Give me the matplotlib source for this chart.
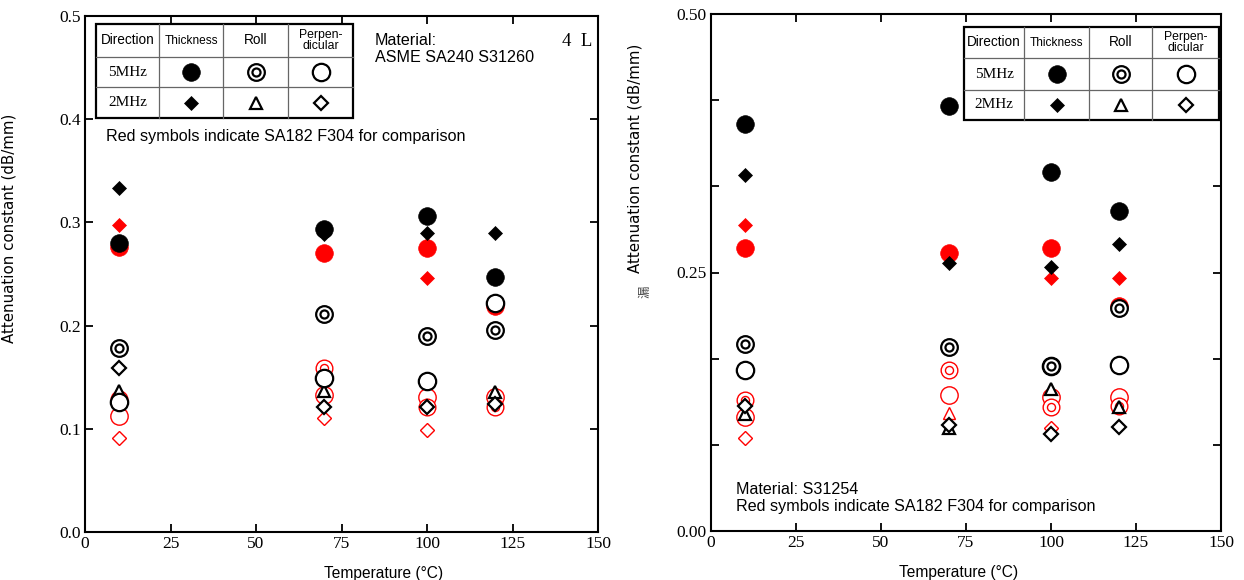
import numpy as np
import matplotlib
matplotlib.use("Agg")
import matplotlib.pyplot as plt
from matplotlib.patches import Rectangle

nan = np.nan
temps = [10, 70, 100, 120]

# ---------------- Left panel: ASME SA240 S31260 ----------------
L_blk_5_thick = [0.280, 0.294, 0.306, 0.247]
L_blk_5_roll = [0.178, 0.211, 0.190, 0.196]
L_blk_5_perp = [0.126, 0.1495, 0.146, 0.222]
L_blk_2_thick = [0.333, 0.289, 0.290, 0.290]
L_blk_2_roll = [0.137, 0.137, nan, 0.136]
L_blk_2_perp = [0.159, 0.121, 0.121, 0.124]
L_red_5_thick = [0.276, 0.270, 0.275, 0.219]
L_red_5_roll = [0.129, 0.159, 0.121, 0.121]
L_red_5_perp = [0.112, 0.133, 0.131, 0.131]
L_red_2_thick = [0.297, nan, 0.246, nan]
L_red_2_roll = [nan, nan, nan, nan]
L_red_2_perp = [0.091, 0.110, 0.099, nan]

# ---------------- Right panel: S31254 ----------------
R_blk_5_thick = [0.394, 0.411, 0.347, 0.3095]
R_blk_5_roll = [0.181, 0.178, 0.160, 0.2155]
R_blk_5_perp = [0.1557, nan, 0.160, 0.1605]
R_blk_2_thick = [0.344, 0.259, 0.2556, 0.278]
R_blk_2_roll = [0.113, 0.0996, 0.137, 0.120]
R_blk_2_perp = [0.121, 0.1025, 0.0935, 0.1003]
R_red_5_thick = [0.274, 0.269, 0.2734, 0.218]
R_red_5_roll = [0.1267, 0.1557, 0.1203, 0.121]
R_red_5_perp = [0.1106, 0.1315, 0.130, 0.130]
R_red_2_thick = [0.2956, nan, 0.245, 0.245]
R_red_2_roll = [nan, 0.1138, nan, nan]
R_red_2_perp = [0.0902, nan, 0.0993, nan]

x_ticks = [0, 25, 50, 75, 100, 125, 150]
L_y_ticks = [0.0, 0.1, 0.2, 0.3, 0.4, 0.5]
R_y_major = [0.0, 0.25, 0.50]
R_y_minor = [0.5 / 6, 0.5 / 6 * 2, 0.5 / 6 * 4, 0.5 / 6 * 5]

W, H = 1244, 580
fig = plt.figure(figsize=(W / 100, H / 100), dpi=100)

SERIF = ["Liberation Serif", "DejaVu Serif"]
SANS = ["Liberation Sans", "DejaVu Sans"]
YLAB = ["DejaVu Sans"]


def fx(px):
    return px / W


def fy(py):
    return 1 - py / H


def draw_marker(ax, x, y, kind, color, zorder=3):
    lw_open = 1.6 if color == "black" else 1.0
    if kind == "thick5":
        ax.plot(x, y, ls="none", marker="o", ms=12.7, mfc=color, mec=color, mew=0.5, zorder=zorder)
    elif kind == "roll5":
        ax.plot(x, y, ls="none", marker="o", ms=12.0, mfc="white", mec=color, mew=lw_open, zorder=zorder)
        ax.plot(x, y, ls="none", marker="o", ms=5.8, mfc="none", mec=color, mew=lw_open, zorder=zorder + 0.01)
    elif kind == "perp5":
        ax.plot(x, y, ls="none", marker="o", ms=12.5, mfc="white", mec=color, mew=lw_open, zorder=zorder)
    elif kind == "thick2":
        ax.plot(x, y, ls="none", marker="D", ms=6.8, mfc=color, mec=color, mew=0.5, zorder=zorder)
    elif kind == "roll2":
        ax.plot(x, y, ls="none", marker="^", ms=8.5, mfc="white", mec=color, mew=lw_open, zorder=zorder)
    elif kind == "perp2":
        ax.plot(x, y, ls="none", marker="D", ms=7.3, mfc="white", mec=color, mew=lw_open, zorder=zorder)


def setup_axes(ax, xlab_x):
    ax.set_xlim(0, 150)
    ax.set_ylim(0, 0.5)
    ax.set_xticks(x_ticks)
    ax.set_xticklabels([str(v) for v in x_ticks], fontfamily=SERIF, fontsize=12.5)
    ax.tick_params(which="both", direction="in", top=True, right=True, length=6, width=1.3, pad=3)
    for s in ax.spines.values():
        s.set_linewidth(1.5)
    ax.set_xlabel("Temperature (°C)", fontfamily=SANS, fontsize=11.2)
    ax.xaxis.set_label_coords(xlab_x, -0.065)


def plot_panel(ax, series):
    z = 3
    for color in ["red", "black"]:
        for kind in ["thick2", "roll2", "perp2", "perp5", "roll5", "thick5"]:
            vals = series[(color, kind)]
            for t, v in zip(temps, vals):
                if not np.isnan(v):
                    draw_marker(ax, t, v, kind, color, zorder=z)
            z += 0.1


# ---------------- Left axes ----------------
axL = fig.add_axes([85 / W, 1 - 532 / H, 513 / W, 516 / H])
setup_axes(axL, (384 - 85) / 513)
axL.set_yticks(L_y_ticks)
axL.set_yticklabels(["%.1f" % v for v in L_y_ticks], fontfamily=SERIF, fontsize=12.5)
axL.set_ylabel("Attenuation constant (dB/mm)", fontfamily=YLAB, fontsize=10.8)
axL.yaxis.set_label_coords((17 - 85) / 513, (532 - 228) / 516)
plot_panel(axL, {
    ("black", "thick5"): L_blk_5_thick, ("black", "roll5"): L_blk_5_roll, ("black", "perp5"): L_blk_5_perp,
    ("black", "thick2"): L_blk_2_thick, ("black", "roll2"): L_blk_2_roll, ("black", "perp2"): L_blk_2_perp,
    ("red", "thick5"): L_red_5_thick, ("red", "roll5"): L_red_5_roll, ("red", "perp5"): L_red_5_perp,
    ("red", "thick2"): L_red_2_thick, ("red", "roll2"): L_red_2_roll, ("red", "perp2"): L_red_2_perp,
})

# ---------------- Right axes ----------------
axR = fig.add_axes([711 / W, 1 - 531 / H, 510 / W, 517 / H])
setup_axes(axR, (959 - 711) / 510)
axR.set_yticks(R_y_major)
axR.set_yticklabels(["%.2f" % v for v in R_y_major], fontfamily=SERIF, fontsize=12.5)
axR.set_yticks(R_y_minor, minor=True)
axR.tick_params(which="minor", length=6, width=1.3, direction="in")
axR.set_ylabel("Attenuation constant (dB/mm)", fontfamily=YLAB, fontsize=10.8)
axR.yaxis.set_label_coords((642 - 711) / 510, (531 - 158) / 517)
plot_panel(axR, {
    ("black", "thick5"): R_blk_5_thick, ("black", "roll5"): R_blk_5_roll, ("black", "perp5"): R_blk_5_perp,
    ("black", "thick2"): R_blk_2_thick, ("black", "roll2"): R_blk_2_roll, ("black", "perp2"): R_blk_2_perp,
    ("red", "thick5"): R_red_5_thick, ("red", "roll5"): R_red_5_roll, ("red", "perp5"): R_red_5_perp,
    ("red", "thick2"): R_red_2_thick, ("red", "roll2"): R_red_2_roll, ("red", "perp2"): R_red_2_perp,
})
fig.text(fx(645), fy(292), "漏", rotation=90, ha="center", va="center",
         fontfamily=["Noto Sans CJK SC", "DejaVu Sans"], fontsize=9, color="#444444")

# ---------------- Overlay axes for tables & notes ----------------
ov = fig.add_axes([0, 0, 1, 1], facecolor="none")
ov.set_xlim(0, 1)
ov.set_ylim(0, 1)
ov.axis("off")
ov.set_zorder(20)


def draw_table(x0, y0, x1, y1, colx, rowy):
    ov.add_patch(Rectangle((fx(x0), fy(y1)), fx(x1) - fx(x0), fy(y0) - fy(y1),
                           facecolor="white", edgecolor="black", lw=1.6, zorder=10))
    for cx in colx:
        ov.plot([fx(cx), fx(cx)], [fy(y0), fy(y1)], color="#666666", lw=0.9, zorder=11)
    for ry in rowy:
        ov.plot([fx(x0), fx(x1)], [fy(ry), fy(ry)], color="#666666", lw=0.9, zorder=11)
    edges = [x0] + list(colx) + [x1]
    cxs = [(edges[i] + edges[i + 1]) / 2 for i in range(4)]
    redges = [y0] + list(rowy) + [y1]
    cys = [(redges[i] + redges[i + 1]) / 2 for i in range(3)]
    heads = ["Direction", "Thickness", "Roll", "Perpen-\ndicular"]
    hsizes = [9.8, 8.6, 9.8, 8.8]
    for i, h in enumerate(heads):
        ov.text(fx(cxs[i]), fy(cys[0]), h, ha="center", va="center", fontfamily=SANS,
                fontsize=hsizes[i], linespacing=0.8, zorder=12)
    ov.text(fx(cxs[0]), fy(cys[1]), "5MHz", ha="center", va="center", fontfamily=SERIF, fontsize=11, zorder=12)
    ov.text(fx(cxs[0]), fy(cys[2]), "2MHz", ha="center", va="center", fontfamily=SERIF, fontsize=11, zorder=12)
    kinds = [["thick5", "roll5", "perp5"], ["thick2", "roll2", "perp2"]]
    for r in range(2):
        for c in range(3):
            draw_marker(ov, [fx(cxs[c + 1])], [fy(cys[r + 1])], kinds[r][c], "black", zorder=13)


draw_table(96, 24, 353, 118, [159, 223, 288], [57, 87])
draw_table(964, 27, 1219, 120, [1024, 1089, 1152], [58, 90])

ov.text(fx(375), fy(49), "Material:\nASME SA240 S31260", ha="left", va="center",
        fontfamily=SANS, fontsize=11.6, linespacing=1.1)
ov.text(fx(577), fy(42), "4  L", ha="center", va="center", fontfamily=SERIF, fontsize=13.5)
ov.text(fx(106), fy(136), "Red symbols indicate SA182 F304 for comparison", ha="left", va="center",
        fontfamily=SANS, fontsize=11.6)
ov.text(fx(736), fy(498), "Material: S31254\nRed symbols indicate SA182 F304 for comparison",
        ha="left", va="center", fontfamily=SANS, fontsize=11.6, linespacing=1.1)

fig.savefig("out.png", dpi=100)
